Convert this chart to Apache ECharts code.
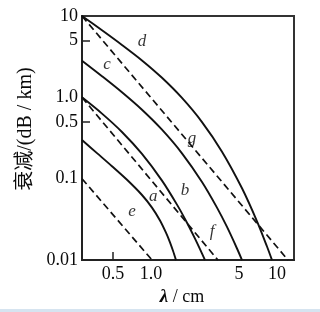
<!DOCTYPE html>
<html><head><meta charset="utf-8">
<script src="https://cdn.jsdelivr.net/npm/echarts@6/dist/echarts.min.js"></script>
<style>html,body{margin:0;padding:0;background:#fff}#c{width:320px;height:312px}</style>
</head><body><div id="c"></div>
<script>
// wavelength (cm) and attenuation (dB/km)
const curveA = [[0.2835,0.2989],[0.3728,0.2064],[0.4902,0.1425],[0.6451,0.0970],[0.8483,0.0631],[1.0185,0.04417],[1.179,0.03066],[1.315,0.02171],[1.415,0.01653],[1.495,0.01302],[1.579,0.01]];
const curveB = [[0.2835,1.0],[0.4086,0.631],[0.5885,0.3753],[0.8483,0.2018],[1.2228,0.0948],[1.608,0.04806],[1.931,0.02883],[2.235,0.01839],[2.448,0.01366],[2.683,0.01]];
const curveC = [[0.2835,2.827],[0.4086,1.819],[0.5885,1.154],[0.8483,0.7039],[1.2228,0.4003],[1.762,0.2052],[2.540,0.0912],[3.340,0.04417],[4.010,0.02555],[4.814,0.01389],[5.276,0.01]];
const curveD = [[0.2835,10],[0.4086,6.673],[0.5885,4.405],[0.8483,2.843],[1.2228,1.739],[1.762,0.9833],[2.540,0.4970],[3.660,0.2153],[5.276,0.07633],[6.940,0.02997],[8.328,0.01469],[9.126,0.01]];
const curveE = [[0.2835,0.1],[1.02,0.01]];
const curveF = [[0.2835,1.0],[3.40,0.01]];
const curveG = [[0.2835,10],[12.23,0.01]];
const curveNames = ['a','b','c','d','e','f','g'];
const labelLambda = [1.04,1.861,0.4477,0.848,0.7067,3.049,2.116];
const labelAtten = [0.0603,0.0714,2.526,4.82,0.0396,0.0226,0.3076];
const xTickValues = [0.5,1,5,10];
const xTickLabels = ['0.5','1.0','5','10'];
const yTickValues = [0.01,0.1,0.5,1,5,10];
const yTickLabels = ['0.01','0.1','0.5','1.0','5','10'];
const xMinorTicks = [0.5];
const yMinorTicks = [0.5,5];

const serif = '"Liberation Serif","DejaVu Serif",serif';
const ink = '#0a0a0a';
const chart = echarts.init(document.getElementById('c'), null, {renderer:'canvas'});
function fmt(vals, labs){ return v => { for (let i=0;i<vals.length;i++){ if (Math.abs(vals[i]-v) < vals[i]*1e-6) return labs[i]; } return ''; }; }
const solid = {color:'#111', width:1.9, type:'solid'};
const dashed = {color:'#111', width:1.7, type:[7,4]};
function line(data, style){ return {type:'line', data:data, symbol:'none', smooth: style===solid?0.3:false, lineStyle:style, silent:true, z:3}; }
chart.setOption({
  animation:false,
  backgroundColor:'#fff',
  grid:{left:82, right:26, top:16, bottom:50, show:true, borderColor:'#333', borderWidth:2, backgroundColor:'transparent'},
  xAxis:{type:'log', logBase:10, min:0.2835, max:13.64,
    name:'{l|λ} / cm', nameLocation:'middle', nameGap:25,
    nameTextStyle:{fontFamily:serif, fontSize:18, color:ink, padding:[0,12,0,0],
      rich:{l:{fontFamily:serif, fontSize:19, fontStyle:'italic', fontWeight:'bold', color:ink}}},
    axisLine:{show:true, lineStyle:{color:'#222', width:2}},
    axisTick:{show:true, inside:true, length:8, customValues:xMinorTicks, lineStyle:{color:'#222', width:1.5}},
    axisLabel:{show:true, customValues:xTickValues, formatter:fmt(xTickValues,xTickLabels), fontFamily:serif, fontSize:18, color:ink, margin:5},
    splitLine:{show:false}, minorTick:{show:false}},
  yAxis:{type:'log', logBase:10, min:0.01, max:10,
    name:'衰减/(dB / km)', nameLocation:'middle', nameRotate:90, nameGap:39,
    nameTextStyle:{fontFamily:serif+',"Noto Sans CJK SC"', fontSize:20, color:ink, padding:[0,0,0,18]},
    axisLine:{show:true, lineStyle:{color:'#222', width:2}},
    axisTick:{show:true, inside:true, length:8, customValues:yMinorTicks, lineStyle:{color:'#222', width:1.5}},
    axisLabel:{show:true, customValues:yTickValues, formatter:fmt(yTickValues,yTickLabels), fontFamily:serif, fontSize:18, color:ink, margin:4},
    splitLine:{show:false}, minorTick:{show:false}},
  series:[
    line(curveA, solid), line(curveB, solid), line(curveC, solid), line(curveD, solid),
    line(curveE, dashed), line(curveF, dashed), line(curveG, dashed),
    {type:'scatter', symbolSize:2, itemStyle:{color:'rgba(0,0,0,0)'}, silent:true, z:5,
     data: curveNames.map((n,i)=>({name:n, value:[labelLambda[i], labelAtten[i]]})),
     label:{show:true, position:'inside', formatter:p=>p.name, fontFamily:serif, fontStyle:'italic', fontSize:17, color:'#000'}}
  ],
  graphic:[{type:'rect', shape:{x:0,y:309,width:320,height:3}, style:{fill:'#d6e4f0'}, silent:true}]
});
</script></body></html>
